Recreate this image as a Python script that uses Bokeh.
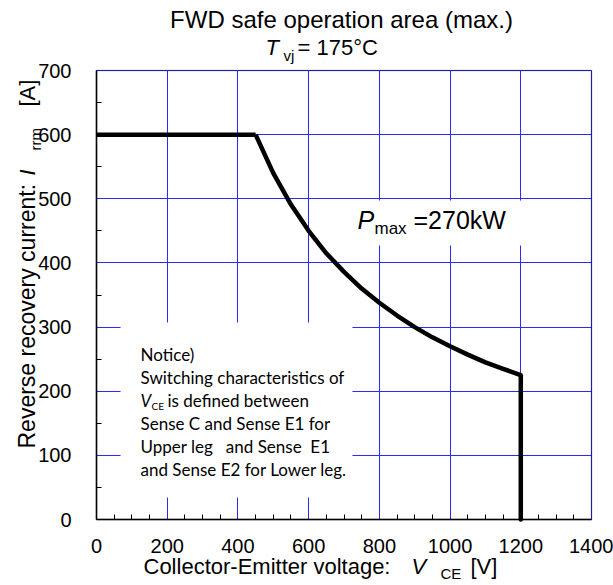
import math
from bokeh.plotting import figure
from bokeh.models import (Range1d, FixedTicker, Label, BoxAnnotation, LinearAxis, Grid)
from bokeh.embed import file_html
from bokeh.resources import INLINE

# ---- data ----
vce_flat = [0, 450]
irr_flat = [600, 600]
vce_curve = [450, 500, 550, 600, 650, 700, 750, 800, 850, 900, 950, 1000, 1050, 1100, 1150, 1200]
irr_curve = [600, 540, 491, 450, 415, 386, 360, 338, 318, 300, 284, 270, 257, 245, 235, 225]
vce_drop = [1200, 1200]
irr_drop = [225, 0]

x_ticks = [0, 200, 400, 600, 800, 1000, 1200, 1400]
y_ticks = [0, 100, 200, 300, 400, 500, 600, 700]

title_text = "FWD safe operation area (max.)"
NB = "\u00a0"
notice_lines = [
    "Notice)",
    "Switching characteristics of",
    None,  # V_CE line composed separately
    "Sense C and Sense E1 for",
    "Upper leg" + NB * 3 + "and Sense" + NB * 2 + "E1",
    "and Sense E2 for Lower leg.",
]

FONT = "Liberation Sans"
NFONT = "Lato"

W, H = 613, 585
# plot-area placement on the canvas (pixels)
FL, FR, FT, FB = 96, 591, 70, 519
XMAX, YMAX = x_ticks[-1], y_ticks[-1]


def dx(px):
    return (px - FL) * XMAX / (FR - FL)


def dy(py):
    return (FB - py) * YMAX / (FB - FT)


p = figure(
    output_backend="svg", toolbar_location=None,
    frame_width=W, frame_height=H,
    min_border=0, min_border_left=0, min_border_right=0,
    min_border_top=0, min_border_bottom=0,
    x_range=Range1d(dx(0), dx(W)), y_range=Range1d(dy(H), dy(0)),
    x_axis_type=None, y_axis_type=None,
)
p.background_fill_color = "white"
p.border_fill_color = "white"
p.outline_line_color = None
p.grid.visible = False

x_minor = [v for v in range(0, XMAX + 1, 50) if v not in x_ticks]
y_minor = [v for v in range(0, YMAX + 1, 50) if v not in y_ticks]
xt = FixedTicker(ticks=x_ticks, minor_ticks=x_minor)
yt = FixedTicker(ticks=y_ticks, minor_ticks=y_minor)

xaxis = LinearAxis(ticker=xt, fixed_location=0, bounds=(0, XMAX))
yaxis = LinearAxis(ticker=yt, fixed_location=0, bounds=(0, YMAX))
for ax in (xaxis, yaxis):
    ax.major_tick_in = 0
    ax.major_tick_out = 0
    ax.minor_tick_in = 5
    ax.minor_tick_out = 0
    ax.minor_tick_line_color = "black"
    ax.axis_line_color = "black"
    ax.axis_line_width = 1.5
    ax.major_label_text_font = FONT
    ax.major_label_text_font_size = "20px"
    ax.major_label_text_color = "black"
xaxis.major_label_standoff = 19
yaxis.major_label_standoff = 25
p.add_layout(xaxis, "below")
p.add_layout(yaxis, "left")

gcol = "#2a2aff"
p.add_layout(Grid(dimension=0, ticker=xt, bounds=(0, XMAX), cross_bounds=(0, YMAX),
                  grid_line_color=gcol, grid_line_width=1))
p.add_layout(Grid(dimension=1, ticker=yt, bounds=(0, YMAX), cross_bounds=(0, XMAX),
                  grid_line_color=gcol, grid_line_width=1))

# plot-area border
p.add_layout(BoxAnnotation(left=0, right=XMAX, bottom=0, top=YMAX, fill_alpha=0,
                           line_color="black", line_width=1.5))

# curve
p.line(vce_flat, irr_flat, line_color="black", line_width=4.5, line_join="round")
p.line(vce_curve, irr_curve, line_color="black", line_width=4.5, line_join="round")
p.line(vce_drop, irr_drop, line_color="black", line_width=4.5, line_cap="round")

# white boxes behind annotations
p.add_layout(BoxAnnotation(left=dx(120), right=dx(352), top=dy(322), bottom=dy(497),
                           fill_color="white", fill_alpha=1, line_alpha=0))
p.add_layout(BoxAnnotation(left=dx(345), right=dx(566), top=dy(200), bottom=dy(245),
                           fill_color="white", fill_alpha=1, line_alpha=0))


def lab(text, px, base, size, font=FONT, style="normal", align="left", angle=0):
    """Place text so that its baseline sits at `base` (y for horizontal, x for rotated)."""
    if angle == 0:
        x, y = px, base - 0.35 * size
    else:
        x, y = base - 0.35 * size, px
    p.add_layout(Label(x=dx(x), y=dy(y), text=text, text_font=font,
                       text_font_size=f"{size}px", text_font_style=style,
                       text_align=align, text_baseline="middle",
                       text_color="black", angle=angle))


# title
lab(title_text, 341, 27, 24, align="center")
lab("T", 265, 55, 22, style="italic")
lab("vj", 283, 60, 15)
lab("= 175°C", 297, 55, 22)

# x axis title
lab("Collector-Emitter voltage:", 143, 574, 22)
lab("V", 411, 574, 22, style="italic")
lab("CE", 440, 578, 15)
lab("[V]", 470, 574, 22)

# y axis title (rotated): second arg = position along text, third = baseline x
R = math.pi / 2
lab("Reverse recovery current:", 448, 35, 23, angle=R)
lab("I", 175, 35, 22, style="italic", angle=R)
lab("rrm", 150, 40, 15, angle=R)
lab("[A]", 106, 35, 22, angle=R)

# Pmax annotation
lab("P", 357, 228, 25, style="italic")
lab("max", 374, 234, 17)
lab("=270kW", 413, 228, 25)

# notice
for i, line in enumerate(notice_lines):
    base = 360 + 23 * i
    if line is None:
        lab("V", 140, base, 17, font=NFONT, style="italic")
        lab("CE", 151, base + 3, 10, font=NFONT)
        lab("is defined between", 167, base, 17, font=NFONT)
    else:
        lab(line, 140, base, 17, font=NFONT)

open("out.html", "w").write(file_html(p, INLINE))
